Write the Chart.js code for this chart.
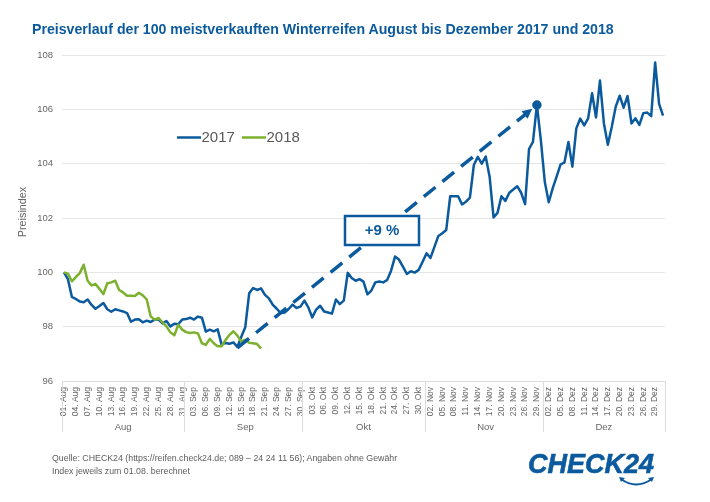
<!DOCTYPE html>
<html lang="de">
<head>
<meta charset="utf-8">
<title>Preisverlauf Winterreifen</title>
<script src="https://cdn.jsdelivr.net/npm/chart.js@4"></script>
<style>
  html, body { margin: 0; padding: 0; background: #fff; }
  body { position: relative; width: 710px; height: 502px; overflow: hidden; font-family: "Liberation Sans", Arial, sans-serif; }
  canvas { position: absolute; left: 0; top: 0; }
  #titel { position: absolute; left: 32px; top: 21px; font-size: 14.15px; font-weight: bold; color: #0b5a9d; white-space: nowrap; }
  #quelle { position: absolute; left: 52px; top: 452px; font-size: 8.8px; line-height: 13px; color: #5c5c5c; white-space: nowrap; }
  #logo { position: absolute; left: 528px; top: 449px; font-size: 27px; font-weight: bold; font-style: italic; color: #0b5a9d; white-space: nowrap; -webkit-text-stroke: 0.6px #0b5a9d; }
  #smile { position: absolute; left: 618px; top: 476px; }
</style>
</head>
<body>
<canvas id="chartPreis" width="710" height="502"></canvas>
<div id="titel">Preisverlauf der 100 meistverkauften Winterreifen August bis Dezember 2017 und 2018</div>
<div id="quelle">Quelle: CHECK24 (https://reifen.check24.de; 089 – 24 24 11 56); Angaben ohne Gewähr<br>Index jeweils zum 01.08. berechnet</div>
<div id="logo">CHECK24</div>
<svg id="smile" width="38" height="14" viewBox="0 0 38 14">
  <path d="M3 3 Q18 14 34 3" fill="none" stroke="#0b5a9d" stroke-width="2"/>
  <path d="M1 1 L7 2 L3 6 Z M36 1 L30 2 L34 6 Z" fill="#0b5a9d"/>
</svg>

<script>
const months = ["Aug", "Sep", "Okt", "Nov", "Dez"];
const monthDays = [31, 30, 31, 30, 31];

const tickLabels = [
  "01. Aug", "04. Aug", "07. Aug", "10. Aug", "13. Aug", "16. Aug", "19. Aug", "22. Aug", "25. Aug", "28. Aug", "31. Aug",
  "03. Sep", "06. Sep", "09. Sep", "12. Sep", "15. Sep", "18. Sep", "21. Sep", "24. Sep", "27. Sep", "30. Sep",
  "03. Okt", "06. Okt", "09. Okt", "12. Okt", "15. Okt", "18. Okt", "21. Okt", "24. Okt", "27. Okt", "30. Okt",
  "02. Nov", "05. Nov", "08. Nov", "11. Nov", "14. Nov", "17. Nov", "20. Nov", "23. Nov", "26. Nov", "29. Nov",
  "02. Dez", "05. Dez", "08. Dez", "11. Dez", "14. Dez", "17. Dez", "20. Dez", "23. Dez", "26. Dez", "29. Dez"
];

const preise2017 = [
  100.0, 99.75, 99.1, 99.02, 98.93, 98.9, 99.0, 98.8, 98.66, 98.76, 98.87, 98.64, 98.55, 98.64, 98.6, 98.56,
  98.5, 98.18, 98.26, 98.27, 98.16, 98.22, 98.17, 98.26, 98.26, 98.12, 98.21, 98.01, 98.11, 98.09, 98.26,
  98.28, 98.33, 98.26, 98.37, 98.33, 97.82, 97.89, 97.83, 97.9, 97.34, 97.4, 97.37, 97.42, 97.25, 97.63,
  97.98, 99.23, 99.42, 99.35, 99.41, 99.17, 99.04, 98.8, 98.66, 98.5, 98.52, 98.65, 98.81, 98.69, 98.74,
  98.96, 98.71, 98.34, 98.63, 98.77, 98.56, 98.52, 98.48, 99.0, 98.83, 98.96, 99.98, 99.79, 99.69, 99.75,
  99.66, 99.19, 99.33, 99.63, 99.66, 99.63, 99.72, 100.06, 100.58, 100.47, 100.21, 99.94, 100.04, 99.99, 100.09,
  100.39, 100.7, 100.53, 100.94, 101.34, 101.44, 101.56, 102.8, 102.8, 102.8, 102.5, 102.6, 102.75, 103.95, 104.25,
  104.0, 104.26, 103.52, 102.02, 102.19, 102.8, 102.63, 102.93, 103.05, 103.17, 102.93, 102.51, 104.54, 104.8, 106.16,
  104.87, 103.33, 102.58, 103.09, 103.52, 103.97, 104.05, 104.8, 103.89, 105.3, 105.66, 105.41, 105.67, 106.59, 105.7,
  107.06, 105.48, 104.7, 105.36, 106.1, 106.5, 106.06, 106.49, 105.48, 105.67, 105.43, 105.86, 105.88, 105.75, 107.72,
  106.2, 105.77
];

const preise2018 = [
  100.0, 99.95, 99.67, 99.82, 99.97, 100.28, 99.69, 99.52, 99.57, 99.39, 99.2, 99.6, 99.63, 99.69, 99.35, 99.26,
  99.14, 99.14, 99.13, 99.25, 99.15, 99.0, 98.38, 98.26, 98.32, 98.16, 98.01, 97.79, 97.68, 98.07, 97.89,
  97.8, 97.77, 97.79, 97.75, 97.39, 97.33, 97.55, 97.39, 97.28, 97.28, 97.51, 97.7, 97.83, 97.67, 97.45,
  97.52, 97.41, 97.39, 97.36, 97.19
];

// Pfeil: vom Tief im September zum Hoch Ende November
const pfeilStart = { index: 44, wert: 97.22 };
const pfeilEnde = { index: 120, wert: 106.16 };
const pfeilText = "+9 %";
const achsenTitel = "Preisindex";

const BLAU = "#0b5a9d";
const GRUEN = "#7bb12d";
const GRAU = "#666";
const LINIE = "#e6e6e6";

// Tage als Kategorien
const tage = [];
months.forEach((m, i) => {
  for (let d = 1; d <= monthDays[i]; d++) tage.push(String(d).padStart(2, "0") + ". " + m);
});

/* Trennstriche der Monate, Pfeil, Kasten, Achsentitel und Legende */
const extras = {
  id: "extras",
  afterDatasetsDraw(chart) {
    const { ctx, chartArea, scales: { x, y } } = chart;
    const halb = (x.getPixelForValue(1) - x.getPixelForValue(0)) / 2;

    ctx.save();
    ctx.strokeStyle = "#dcdcdc";
    ctx.lineWidth = 1;
    let start = 0;
    [0, ...monthDays].forEach(n => {
      start += n;
      const px = Math.round(x.getPixelForValue(start) - halb) + 0.5;
      ctx.beginPath();
      ctx.moveTo(px, chartArea.bottom);
      ctx.lineTo(px, chartArea.bottom + 51);
      ctx.stroke();
    });

    // Pfeil
    const x1 = x.getPixelForValue(pfeilStart.index), y1 = y.getPixelForValue(pfeilStart.wert);
    const x2 = x.getPixelForValue(pfeilEnde.index), y2 = y.getPixelForValue(pfeilEnde.wert);
    const w = Math.atan2(y2 - y1, x2 - x1);
    const spitzeX = x2 - 6 * Math.cos(w), spitzeY = y2 - 6 * Math.sin(w);
    ctx.strokeStyle = BLAU;
    ctx.fillStyle = BLAU;
    ctx.lineWidth = 3.5;
    ctx.setLineDash([15, 9]);
    ctx.beginPath();
    ctx.moveTo(x1, y1);
    ctx.lineTo(spitzeX - 8 * Math.cos(w), spitzeY - 8 * Math.sin(w));
    ctx.stroke();
    ctx.setLineDash([]);
    ctx.beginPath();
    ctx.moveTo(spitzeX, spitzeY);
    ctx.lineTo(spitzeX - 11 * Math.cos(w - 0.45), spitzeY - 11 * Math.sin(w - 0.45));
    ctx.lineTo(spitzeX - 11 * Math.cos(w + 0.45), spitzeY - 11 * Math.sin(w + 0.45));
    ctx.closePath();
    ctx.fill();

    // Kasten
    ctx.fillStyle = "#fff";
    ctx.lineWidth = 2.5;
    ctx.fillRect(345, 216, 74, 29);
    ctx.strokeRect(345, 216, 74, 29);
    ctx.fillStyle = BLAU;
    ctx.font = 'bold 15px "Liberation Sans"';
    ctx.textAlign = "center";
    ctx.textBaseline = "middle";
    ctx.fillText(pfeilText, 382, 231);

    // Achsentitel, sitzt etwas ueber der Mitte der Achse
    ctx.save();
    ctx.translate(23, 212);
    ctx.rotate(-Math.PI / 2);
    ctx.font = '10.8px "Liberation Sans"';
    ctx.fillStyle = GRAU;
    ctx.fillText(achsenTitel, 0, 0);
    ctx.restore();

    // Legende
    ctx.font = '15px "Liberation Sans"';
    ctx.textAlign = "left";
    let lx = 177;
    chart.data.datasets.forEach(ds => {
      ctx.strokeStyle = ds.borderColor;
      ctx.lineWidth = 2.5;
      ctx.beginPath();
      ctx.moveTo(lx, 137.5);
      ctx.lineTo(lx + 24, 137.5);
      ctx.stroke();
      ctx.fillStyle = "#595959";
      ctx.fillText(ds.label, lx + 24.5, 137.5);
      lx += 65;
    });
    ctx.restore();
  }
};

new Chart(document.getElementById("chartPreis"), {
  type: "line",
  data: {
    labels: tage,
    datasets: [
      {
        label: "2017",
        data: preise2017,
        borderColor: BLAU,
        backgroundColor: BLAU,
        borderWidth: 2.5,
        borderJoinStyle: "round",
        tension: 0,
        order: 1,
        pointRadius: c => (c.dataIndex === pfeilEnde.index ? 3.5 : 0)
      },
      {
        label: "2018",
        data: preise2018,
        borderColor: GRUEN,
        borderWidth: 2.5,
        borderJoinStyle: "round",
        tension: 0,
        order: 0,
        pointRadius: 0
      }
    ]
  },
  options: {
    responsive: false,
    animation: false,
    devicePixelRatio: 1,
    layout: { padding: { top: 55, right: 45, bottom: 70, left: 17 } },
    plugins: { legend: { display: false }, tooltip: { enabled: false } },
    scales: {
      y: {
        min: 96,
        max: 108,
        afterFit: s => { s.width = 45; },
        grid: { color: LINIE, drawTicks: false },
        border: { display: false },
        ticks: { stepSize: 2, padding: 9, color: GRAU, font: { size: 9.5, family: "Liberation Sans" } }
      },
      x: {
        offset: true,
        afterFit: s => { s.height = 36; },
        grid: { display: false, drawTicks: false },
        border: { color: "#dcdcdc" },
        ticks: {
          autoSkip: false,
          minRotation: 90,
          maxRotation: 90,
          padding: 6,
          color: GRAU,
          font: { size: 8.5, family: "Liberation Sans" },
          callback: (v, i) => (i % 3 === 0 ? tickLabels[i / 3] : "")
        }
      },
      monat: {
        type: "category",
        position: "bottom",
        offset: true,
        labels: tage,
        afterFit: s => { s.height = 15; },
        grid: { display: false, drawTicks: false },
        border: { display: false },
        ticks: {
          autoSkip: false,
          maxRotation: 0,
          minRotation: 0,
          padding: 5,
          color: GRAU,
          font: { size: 9.5, family: "Liberation Sans" },
          callback: (v, i) => {
            let start = 0;
            for (let m = 0; m < months.length; m++) {
              if (i === start + Math.floor(monthDays[m] / 2)) return months[m];
              start += monthDays[m];
            }
            return "";
          }
        }
      }
    }
  },
  plugins: [extras]
});
</script>
</body>
</html>
